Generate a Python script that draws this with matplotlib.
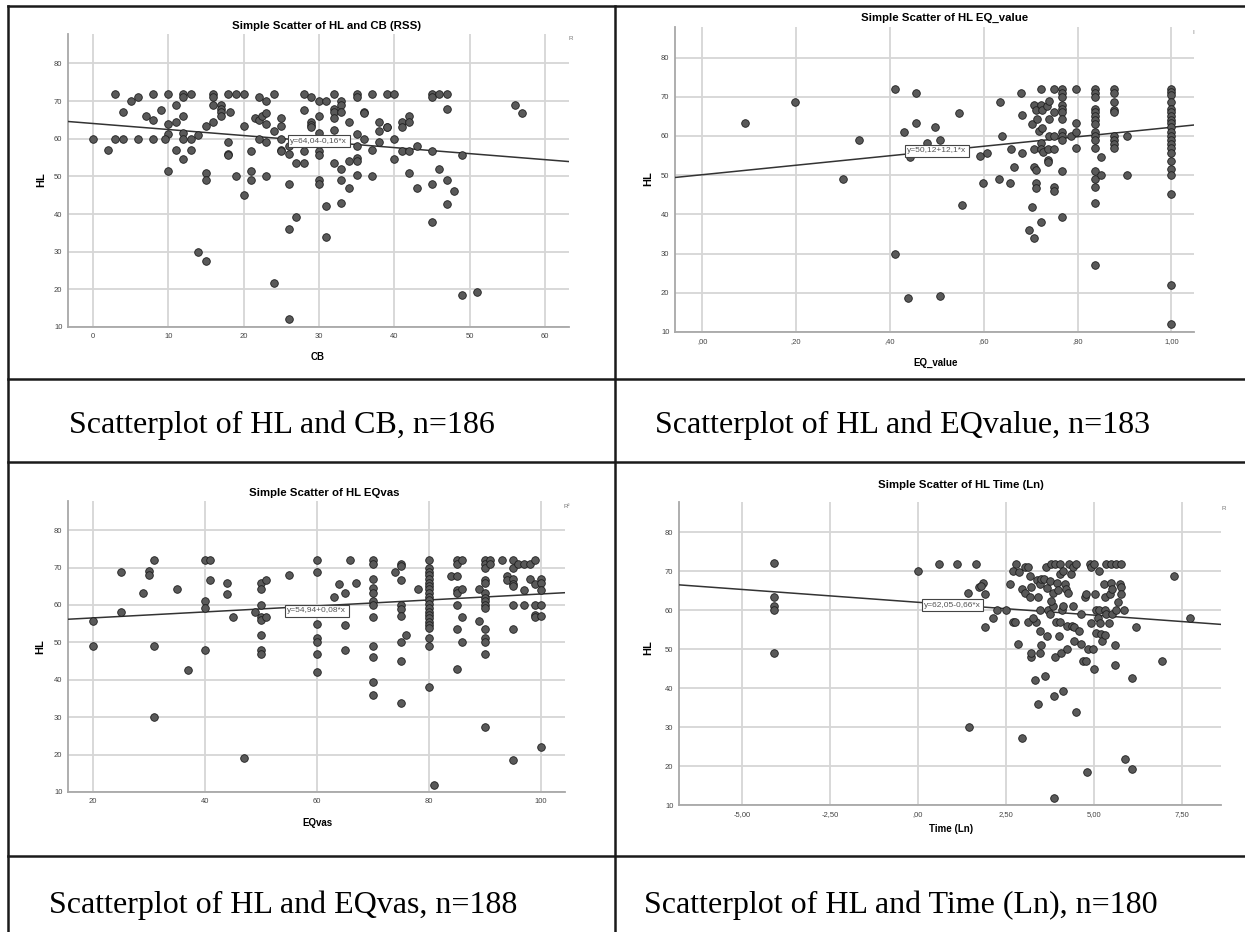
import matplotlib
matplotlib.use("Agg")
import matplotlib.pyplot as plt
from matplotlib.lines import Line2D
import numpy as np

cb = [0, 2, 3, 3, 4, 4, 5, 6, 6, 7, 8, 8, 8, 9, 10, 10, 10, 9.6, 10, 11, 11, 11,
      12, 12, 12, 12, 12, 12, 13, 13, 13, 14, 14, 15, 15, 15, 15, 16, 16, 16, 16,
      17, 17, 17, 17, 18, 18.2, 18, 18, 18, 19, 19, 20, 20, 20, 21, 21, 21, 21.5,
      22, 22, 22, 22.5, 23, 23, 23, 23, 23, 24, 24, 24, 25, 25, 25, 25, 25,
      26, 26, 26, 26, 26, 27, 27, 28, 28, 28, 28, 29, 29, 29, 29,
      30, 30, 30, 30, 30, 30, 30, 31, 31, 31, 32, 32, 32, 32, 32, 32,
      33, 33, 33, 33, 33, 33, 34, 34, 34, 35, 35, 35, 35, 35, 35, 35,
      36, 36, 36, 37, 37, 37, 38, 38, 38, 39, 39, 39, 40, 40, 40, 41, 41, 41,
      42, 42, 42, 42, 43, 43, 45, 45, 45, 45, 45, 46, 46, 47, 47, 47, 47,
      48, 49, 49, 51, 56, 57]
hl_cb = [60, 57, 72, 60, 67, 60, 70, 71, 60, 66, 72, 65, 60, 67.7, 72, 64, 61.2, 60, 51.4, 69, 64.5, 57,
         72, 71, 66, 61.5, 60, 54.7, 72, 60, 57, 61, 30, 63.3, 51, 49, 27.4, 72, 71, 69, 64.5,
         69, 68, 67, 66, 72, 67, 59, 56, 55.7, 72, 50, 72, 63.3, 45, 56.8, 51.4, 49, 65.5,
         71, 65, 60, 66, 70, 66.7, 64, 59, 50, 72, 62, 21.8, 65.5, 63.3, 60, 57, 56.8,
         58, 56, 48, 36, 12, 53.6, 39.3, 72, 67.7, 56.8, 53.6, 71, 64.5, 63.7, 63,
         70, 66, 61.4, 56.8, 55.7, 49, 48, 70, 42, 34, 72, 68, 67, 65.5, 62.3, 53.6,
         70, 69, 67, 52, 49, 43, 64.5, 54, 47, 72, 71, 61.2, 58, 55, 54, 50.3,
         67, 66.7, 60, 72, 57, 50, 64.5, 62, 59, 72, 63.2, 63, 72, 60, 54.7, 64.5, 63.2, 56.8,
         66, 64.5, 56.8, 51, 58, 47, 72, 71, 56.8, 48, 38, 72, 52, 72, 68, 49, 42.6,
         46, 55.7, 18.5, 19.4, 69, 66.7]

eq_value = [0.092, 0.197, 0.30, 0.334, 0.411, 0.411, 0.429, 0.439, 0.442, 0.456, 0.456,
            0.479, 0.497, 0.507, 0.507, 0.548, 0.553, 0.592, 0.606, 0.599, 0.632, 0.635,
            0.639, 0.656, 0.659, 0.664, 0.679, 0.682, 0.682, 0.703, 0.703, 0.696, 0.708,
            0.708, 0.711, 0.711, 0.711, 0.708, 0.711, 0.714, 0.708, 0.718, 0.722, 0.722,
            0.722, 0.722, 0.722, 0.725, 0.725, 0.727, 0.734, 0.74, 0.736, 0.736, 0.736,
            0.74, 0.74, 0.75, 0.75, 0.75, 0.75, 0.75, 0.75,
            0.767, 0.767, 0.767, 0.767, 0.767, 0.767, 0.767, 0.767, 0.767, 0.767, 0.767, 0.767,
            0.785, 0.796, 0.796, 0.796, 0.796,
            0.837, 0.837, 0.837, 0.837, 0.837, 0.837, 0.837, 0.837, 0.837, 0.837, 0.837,
            0.837, 0.837, 0.837, 0.837, 0.837, 0.837,
            0.849, 0.849,
            0.878, 0.878, 0.878, 0.878, 0.878, 0.878, 0.878, 0.878, 0.878,
            0.906, 0.906,
            1.0, 1.0, 1.0, 1.0, 1.0, 1.0, 1.0, 1.0, 1.0, 1.0, 1.0, 1.0, 1.0, 1.0, 1.0,
            1.0, 1.0, 1.0, 1.0, 1.0, 1.0, 1.0]
hl_eq = [63.2, 68.7, 49, 59, 72, 30, 60.9, 18.6, 54.6, 71, 63.2,
         58.1, 62.2, 59, 19.2, 65.9, 42.5, 55, 55.7, 48, 49, 68.7,
         60, 48, 56.8, 52.1, 71, 65.4, 55.7, 63, 42, 36, 33.9,
         52.1, 51.3, 48, 46.8, 68, 66.6, 64.3, 56.8, 61.3, 72, 68,
         58.1, 56.8, 38, 66.6, 62, 56, 67.6, 69, 56.8, 53.9, 53.4,
         64.3, 60, 72, 66, 60, 56.8, 46.9, 46,
         72, 71, 70, 68, 67, 66, 64.3, 61, 60, 59, 51, 39.3,
         60, 72, 63.2, 61, 57,
         72, 71, 70, 67, 66, 65, 64, 63, 61, 60, 59,
         57, 51, 49, 46.9, 43, 27.2,
         54.6, 50.1,
         72, 71, 68.7, 66.6, 66, 60, 59, 58, 57,
         60, 50.1,
         72, 71.3, 70.5, 68.7, 67, 66, 65, 64, 63.2, 62.2, 61, 60, 59, 58, 57,
         55.7, 53.5, 51.5, 50.1, 45.1, 22, 12]

eqvas = [20, 20, 25, 25, 29, 30, 30, 31, 31, 31, 35, 37, 40, 41, 40, 40, 40, 41,
         44, 44, 45, 47, 49, 50, 50, 50, 50, 50, 50, 50, 50, 51, 51, 55,
         60, 60, 60, 60, 60, 60, 60, 63, 64, 65, 65, 65, 66, 67,
         70, 70, 70, 70, 70, 70, 70, 70, 70, 70, 70, 70, 74,
         75, 75, 75, 75, 75, 75, 75, 75, 75, 76, 78,
         80, 80, 80, 80, 80, 80, 80, 80, 80, 80, 80, 80, 80, 80, 80, 80, 80, 80, 80, 80, 80, 80,
         81, 84, 85, 85, 85, 86, 85, 85, 86, 85, 85, 85, 86, 86, 89, 89,
         90, 90, 90, 90, 90, 90, 90, 90, 90, 90, 90, 90, 90, 90, 90, 91, 91, 93, 94, 94,
         95, 95, 95, 95, 95, 95, 95, 95, 96, 97, 98, 97, 97, 98,
         99, 99, 99, 99, 99, 100, 100, 100, 100, 100, 100]
hl_vas = [55.7, 49.1, 68.7, 58, 63.3, 69, 68, 72, 49.1, 30, 64.4, 42.5, 72, 72, 61, 59.1, 48, 66.6,
          66, 63, 56.8, 19.2, 58, 66, 64.4, 60, 56.8, 56, 52.1, 48, 47, 66.6, 56.8, 68,
          72, 68.7, 55, 51.3, 50, 47, 42, 62.2, 65.5, 63.3, 54.6, 48, 72, 66,
          72, 71, 67, 64.6, 63.3, 61, 60, 56.8, 49, 46, 39.3, 36, 68.7,
          71, 70.3, 66.6, 60, 59, 57.1, 50, 45, 33.8, 52.1, 64.4,
          72, 70, 68.9, 68, 66.9, 66, 65.1, 64.3, 63.1, 62.2, 61.3, 60.2, 59.1, 58, 57.3, 56.4,
          55.5, 54.6, 53.9, 51.3, 49.1, 38,
          12, 67.7, 67.7, 72, 71, 72, 64, 63.3, 64.4, 60, 53.5, 43, 56.8, 50.2, 64.4, 55.7,
          72, 71, 70, 66.6, 66, 63.3, 62, 61, 60, 59.1, 53.5, 51.1, 50, 47, 27.3, 72, 71, 72, 67.7, 66.6,
          72, 70, 67, 65.5, 65.1, 60, 53.5, 18.5, 71, 71, 71, 64, 60, 67,
          72, 65.5, 60, 57.3, 56.8, 67, 66, 64, 60, 57.1, 22]

time_ln = [-4.085, -4.085, -4.085, -4.085, -4.085, 0, 0.59, 1.1, 1.65, 1.43, 1.45,
           1.73, 1.84, 1.78, 1.89, 1.91, 2.13, 2.24, 2.49, 2.6, 2.7, 2.75, 2.77, 2.7,
           2.88, 2.84, 2.96, 3.05, 3.12, 2.96, 3.05, 3.17, 3.19, 3.2, 3.2, 3.22, 3.31,
           3.36, 3.13, 3.27, 3.4, 3.4, 3.38, 3.45, 3.5, 3.45, 3.47, 3.45, 3.5, 3.59,
           3.6, 3.64, 3.66, 3.66, 3.69, 3.74, 3.74, 3.78, 3.83, 3.78, 3.85, 3.86, 3.88,
           3.83, 3.88, 3.92, 3.94, 3.97, 4.0, 4.02, 4.02, 4.07, 4.04, 4.1, 4.11, 4.13,
           4.11, 4.16, 4.19, 4.23, 4.26, 4.23, 4.3, 4.34, 4.4, 4.4, 4.36, 4.43, 4.44,
           4.49, 4.49, 4.57, 4.62, 4.62, 4.68, 4.78, 4.73, 4.78, 4.8, 4.82, 4.87, 4.9,
           4.92, 4.96, 4.99, 5.01, 5.04, 5.02, 5.04, 5.12, 5.15, 5.15, 5.17, 5.2, 5.23,
           5.28, 5.3, 5.3, 5.32, 5.34, 5.34, 5.41, 5.44, 5.47, 5.48, 5.5, 5.51, 5.58,
           5.59, 5.63, 5.63, 5.67, 5.75, 5.72, 5.77, 5.75, 5.84, 5.87, 6.08, 6.08,
           6.18, 6.92, 7.27, 7.71]
hl_time = [72.1, 63.3, 61.1, 60.1, 49, 70, 72, 72, 72, 64.4, 30,
           66, 67, 66.2, 64.1, 55.7, 58.1, 60.1, 60.1, 66.7, 57.1, 57.1, 72, 70,
           69.9, 51.3, 27.3, 71.1, 71.1, 65.5, 64.4, 63.3, 68.8, 66, 48.1, 49, 42,
           57.1, 57.1, 58.1, 63.3, 36, 67.9, 66.7, 68, 54.6, 60.1, 49, 51, 68,
           43, 71.1, 65.6, 53.5, 60.1, 59.1, 67.6, 72, 61.1, 62.5, 38, 11.9, 72,
           64.4, 48, 57.1, 66.9, 65.2, 53.5, 72, 56.9, 49, 69.2, 60.1, 70, 39.3,
           61.1, 66.7, 65.5, 56, 64.4, 50.1, 72, 69.2, 71.1, 61.1, 56, 55.7, 52.2,
           72, 33.9, 54.6, 59.1, 51.4, 47.1, 47.1, 63.3, 64.2, 18.5, 50.1, 72, 71,
           56.8, 50.1, 45, 72, 60.1, 64.2, 54.1, 58.1, 70, 60.1, 56.7, 53.9, 52,
           66.7, 63.3, 60.1, 53.6, 72, 59.1, 56.7, 64.2, 67.1, 72, 65.5, 59.1, 46,
           51, 72, 60.1, 62, 72, 66.7, 66, 64.1, 60.1, 21.8, 19.2, 42.6,
           55.7, 47, 68.9, 58.1]

# fit coefficients as printed by SPSS
fits = [(64.04, -0.16), (50.12, 12.1), (54.94, 0.08), (62.05, -0.66)]
eq_labels = ["y=64,04-0,16*x", "y=50,12+12,1*x", "y=54,94+0,08*x", "y=62,05-0,66*x"]
titles = ["Simple Scatter of HL and CB (RSS)", "Simple Scatter of HL EQ_value",
          "Simple Scatter of HL EQvas", "Simple Scatter of HL Time (Ln)"]
xlabels = ["CB", "EQ_value", "EQvas", "Time (Ln)"]
captions = ["Scatterplot of HL and CB, n=186", "Scatterplot of HL and EQvalue, n=183",
            "Scatterplot of HL and EQvas, n=188", "Scatterplot of HL and Time (Ln), n=180"]
xtick_vals = [[0, 10, 20, 30, 40, 50, 60], [0, 0.2, 0.4, 0.6, 0.8, 1.0],
              [20, 40, 60, 80, 100], [-5, -2.5, 0, 2.5, 5, 7.5]]
xtick_labels = [["0", "10", "20", "30", "40", "50", "60"],
                [",00", ",20", ",40", ",60", ",80", "1,00"],
                ["20", "40", "60", "80", "100"],
                ["-5,00", "-2,50", ",00", "2,50", "5,00", "7,50"]]
yticks = [10, 20, 30, 40, 50, 60, 70, 80]

W, H = 1245, 932


def rect(l, t, r, b):
    return [l / W, 1 - b / H, (r - l) / W, (b - t) / H]


def ftext(x, y, s, **kw):
    fig.text(x / W, 1 - y / H, s, **kw)


plt.rcParams['font.family'] = ['Liberation Sans', 'DejaVu Sans']

fig = plt.figure(figsize=(W / 100, H / 100), dpi=100)

panels = [
    dict(x=cb, y=hl_cb, box=rect(68, 34, 569, 327), xlim=(-3.3, 63.2),
         title=(327, 26), xl=(318, 357), yl=(41, 180), corner=(571, 39, "R"), eq=(30, 59.3)),
    dict(x=eq_value, y=hl_eq, box=rect(675, 27, 1194, 332), xlim=(-0.058, 1.048),
         title=(945, 18), xl=(936, 363), yl=(648, 179), corner=(1193, 33, "I"), eq=(0.50, 56.2)),
    dict(x=eqvas, y=hl_vas, box=rect(68, 501, 565, 792), xlim=(15.6, 104.3),
         title=(324, 493), xl=(317, 823), yl=(40, 647), corner=(567, 507, "R²"), eq=(60, 58.4)),
    dict(x=time_ln, y=hl_time, box=rect(679, 502, 1221, 805), xlim=(-6.78, 8.6),
         title=(961, 485), xl=(951, 829), yl=(648, 648), corner=(1224, 508, "R"), eq=(0.98, 61.3)),
]

for i, p in enumerate(panels):
    ax = fig.add_axes(p["box"])
    ax.set_xlim(*p["xlim"])
    ax.set_ylim(10, 87.8)
    ax.set_xticks(xtick_vals[i])
    ax.set_xticklabels(xtick_labels[i])
    ax.set_yticks(yticks)
    ax.grid(True, color="#d6d6d6", lw=1.3)
    ax.set_axisbelow(True)
    for s in ["top", "right"]:
        ax.spines[s].set_visible(False)
    for s in ["left", "bottom"]:
        ax.spines[s].set_color("#a8a8a8")
        ax.spines[s].set_linewidth(1.3)
    ax.tick_params(length=0, labelsize=5.5, labelcolor="#444444", pad=4)

    xs = np.array(ax.get_xlim())
    a, b = fits[i]
    ax.plot(xs, a + b * xs, color="#333333", lw=1.1, zorder=3)

    ax.scatter(p["x"], p["y"], s=30, c="#595959", edgecolors="#1e1e1e",
               linewidths=0.6, zorder=4)

    ax.text(p["eq"][0], p["eq"][1], eq_labels[i], fontsize=6, color="#555555",
            ha="center", va="center", zorder=5,
            bbox=dict(boxstyle="square,pad=0.3", fc="white", ec="#444444", lw=0.8))

    ftext(*p["title"], titles[i], fontsize=8.2, fontweight="bold", ha="center", va="center")
    ftext(*p["xl"], xlabels[i], fontsize=7, fontweight="bold", ha="center", va="center")
    ftext(*p["yl"], "HL", fontsize=8, fontweight="bold", ha="center", va="center", rotation=90)
    cx, cy, ct = p["corner"]
    ftext(cx, cy, ct, fontsize=4.5, color="#777777", ha="center", va="center")

# captions in the table rows
cap_pos = [(69, 425), (655, 425), (49, 905), (644, 905)]
for (x, y), c in zip(cap_pos, captions):
    ftext(x, y, c, fontsize=23, family="Liberation Serif", ha="left", va="center")

# table rules
def hline(y, x0=8, x1=W):
    fig.add_artist(Line2D([x0 / W, x1 / W], [1 - y / H, 1 - y / H], color="#1a1a1a", lw=1.8))


def vline(x, y0=6, y1=H):
    fig.add_artist(Line2D([x / W, x / W], [1 - y0 / H, 1 - y1 / H], color="#1a1a1a", lw=1.8))


for y in [6, 379, 462, 856]:
    hline(y)
vline(8)
vline(615)

fig.savefig("out.png", dpi=100)
